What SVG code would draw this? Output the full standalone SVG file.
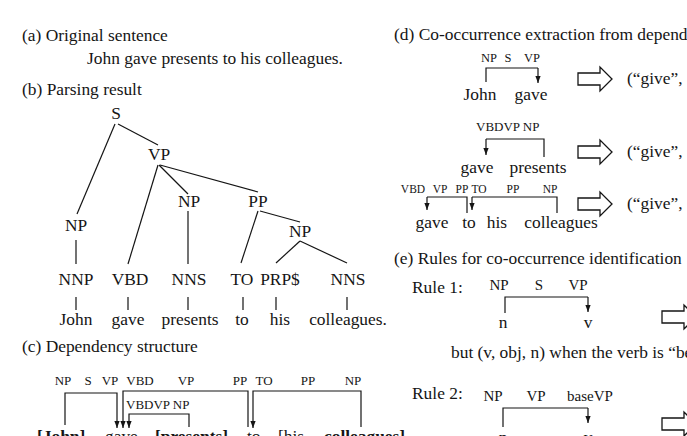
<svg xmlns="http://www.w3.org/2000/svg" width="687" height="436" viewBox="0 0 687 436">
<defs>
<style>
text{font-family:"Liberation Serif","Times New Roman",serif;fill:#151515}
.t{font-size:17.4px}
.m{text-anchor:middle}
.l13{font-size:13px}
.l12{font-size:12.5px}
.l11{font-size:11.5px}
.l15{font-size:15px}
.b{font-weight:bold}
.ln{stroke:#151515;stroke-width:1.2;fill:none}
.ar{stroke:#151515;stroke-width:1.2;fill:none;marker-end:url(#ah)}
.ha{fill:#fff;stroke:#151515;stroke-width:1.3}
</style>
<marker id="ah" viewBox="0 0 8 6" refX="8" refY="3" markerWidth="7" markerHeight="5.5" markerUnits="userSpaceOnUse" orient="auto">
<path d="M0,0 L8,3 L0,6 z" fill="#151515"/>
</marker>
</defs>
<rect width="687" height="436" fill="#fff"/>

<g id="section-a">
<text class="t" x="22" y="41">(a) Original sentence</text>
<text class="t" x="87" y="64">John gave presents to his colleagues.</text>
</g>

<g id="section-b-title"><text class="t" x="22" y="95">(b) Parsing result</text></g>

<g id="tree-connectors">
<path class="ln" d="M115,124 L77,214"/>
<path class="ln" d="M118,124 L158,145"/>
<path class="ln" d="M76,240 V264"/>
<path class="ln" d="M158,165 L128,264"/>
<path class="ln" d="M159,165 L188,194"/>
<path class="ln" d="M160,165 L258,192"/>
<path class="ln" d="M188,211 V264"/>
<path class="ln" d="M258,211 L241,263"/>
<path class="ln" d="M260,211 L300,222"/>
<path class="ln" d="M300,241 L276,263"/>
<path class="ln" d="M300,241 L347,263"/>
<path class="ln" d="M76,297 V310 M128,297 V310 M188,297 V310 M243,297 V310 M276,297 V310 M347,297 V310"/>
</g>

<g id="n-S"><text class="t m" x="116" y="119">S</text></g>
<g id="n-VP"><text class="t m" x="159" y="160">VP</text></g>
<g id="n-NP1"><text class="t m" x="76" y="231">NP</text></g>
<g id="n-NP2"><text class="t m" x="189" y="207">NP</text></g>
<g id="n-PP"><text class="t m" x="258" y="207">PP</text></g>
<g id="n-NP3"><text class="t m" x="300" y="237">NP</text></g>
<g id="n-NNP"><text class="t m" x="76" y="285">NNP</text></g>
<g id="n-VBD"><text class="t m" x="130" y="285">VBD</text></g>
<g id="n-NNS1"><text class="t m" x="189" y="285">NNS</text></g>
<g id="n-TO"><text class="t m" x="242" y="285">TO</text></g>
<g id="n-PRPS"><text class="t m" x="280" y="285">PRP$</text></g>
<g id="n-NNS2"><text class="t m" x="348" y="285">NNS</text></g>
<g id="w-John"><text class="t m" x="76" y="325">John</text></g>
<g id="w-gave"><text class="t m" x="128" y="325">gave</text></g>
<g id="w-presents"><text class="t m" x="190" y="325">presents</text></g>
<g id="w-to"><text class="t m" x="242" y="325">to</text></g>
<g id="w-his"><text class="t m" x="280" y="325">his</text></g>
<g id="w-colleagues"><text class="t m" x="348" y="325">colleagues.</text></g>

<g id="section-c">
<text class="t" x="22" y="352">(c) Dependency structure</text>
<text class="l13 m" x="63" y="385">NP</text>
<text class="l13 m" x="88" y="385">S</text>
<text class="l13 m" x="110" y="385">VP</text>
<text class="l13 m" x="140" y="385">VBD</text>
<text class="l13 m" x="186" y="385">VP</text>
<text class="l13 m" x="240" y="385">PP</text>
<text class="l13 m" x="264" y="385">TO</text>
<text class="l13 m" x="308" y="385">PP</text>
<text class="l13 m" x="353" y="385">NP</text>
<text class="l13" x="126" y="409">VBDVP NP</text>
<text class="t b" x="37" y="442">[John]</text>
<text class="t" x="105" y="442">gave</text>
<text class="t b" x="155" y="442">[presents]</text>
<text class="t" x="247" y="442">to</text>
<text class="t" x="278" y="442">[his</text>
<text class="t b" x="324" y="442">colleagues]</text>
</g>

<g id="dep-connectors">
<path class="ar" d="M65,425 V393 H117 V428"/>
<path class="ar" d="M248,427 V391 H123 V428"/>
<path class="ar" d="M361,427 V391 H253 V428"/>
<path class="ar" d="M189,427 V414 H129 V428"/>
</g>

<g id="section-d">
<text class="t" x="394" y="40">(d) Co-occurrence extraction from dependency</text>
</g>

<g id="d-row1">
<text class="l12 m" x="489" y="62">NP</text>
<text class="l12 m" x="508" y="62">S</text>
<text class="l12 m" x="532" y="62">VP</text>
<path class="ln" d="M486,82 V68 H538"/>
<path class="ar" d="M538,68 V83"/>
<text class="t m" x="480" y="100">John</text>
<text class="t m" x="531" y="100">gave</text>
<path class="ha" d="M578,73 H600 V67 L612,79 L600,91 V85 H578 Z"/>
<text class="t" x="627" y="84">(“give”,</text>
</g>

<g id="d-row2">
<text class="l13" x="476" y="131">VBDVP NP</text>
<path class="ln" d="M544,157 V139 H486"/>
<path class="ar" d="M486,139 V155"/>
<text class="t m" x="477" y="173">gave</text>
<text class="t m" x="538" y="173">presents</text>
<path class="ha" d="M578,146 H600 V140 L612,152 L600,164 V158 H578 Z"/>
<text class="t" x="627" y="157">(“give”,</text>
</g>

<g id="d-row3">
<text class="l11 m" x="413" y="193">VBD</text>
<text class="l11 m" x="440" y="193">VP</text>
<text class="l11 m" x="462" y="193">PP</text>
<text class="l11 m" x="479" y="193">TO</text>
<text class="l11 m" x="513" y="193">PP</text>
<text class="l11 m" x="550" y="193">NP</text>
<path class="ln" d="M467,213 V197 H427"/>
<path class="ar" d="M427,197 V210"/>
<path class="ln" d="M557,213 V197 H472"/>
<path class="ar" d="M472,197 V210"/>
<text class="t m" x="432" y="228">gave</text>
<text class="t m" x="469" y="228">to</text>
<text class="t m" x="497" y="228">his</text>
<text class="t m" x="561" y="228">colleagues</text>
<path class="ha" d="M578,198 H600 V192 L612,204 L600,216 V210 H578 Z"/>
<text class="t" x="627" y="209">(“give”,</text>
</g>

<g id="section-e">
<text class="t" x="394" y="264">(e) Rules for co-occurrence identification</text>
</g>

<g id="rule1">
<text class="t" x="412" y="293">Rule 1:</text>
<text class="l15 m" x="499" y="290">NP</text>
<text class="l15 m" x="539" y="290">S</text>
<text class="l15 m" x="578" y="290">VP</text>
<path class="ln" d="M505,313 V297 H588"/>
<path class="ar" d="M588,297 V312"/>
<text class="t m" x="503" y="328">n</text>
<text class="t m" x="588" y="328">v</text>
<path class="ha" d="M662,311 H684 V305 L696,317 L684,329 V323 H662 Z"/>
<text class="t" x="451" y="358">but (v, obj, n) when the verb is “be”</text>
</g>

<g id="rule2">
<text class="t" x="412" y="399">Rule 2:</text>
<text class="l15 m" x="493" y="401">NP</text>
<text class="l15 m" x="536" y="401">VP</text>
<text class="l15 m" x="590" y="401">baseVP</text>
<path class="ln" d="M503,427 V408 H588"/>
<path class="ar" d="M588,408 V423"/>
<text class="t m" x="503" y="443">n</text>
<text class="t m" x="588" y="443">v</text>
<path class="ha" d="M662,418 H684 V412 L696,424 L684,436 V430 H662 Z"/>
</g>
</svg>
